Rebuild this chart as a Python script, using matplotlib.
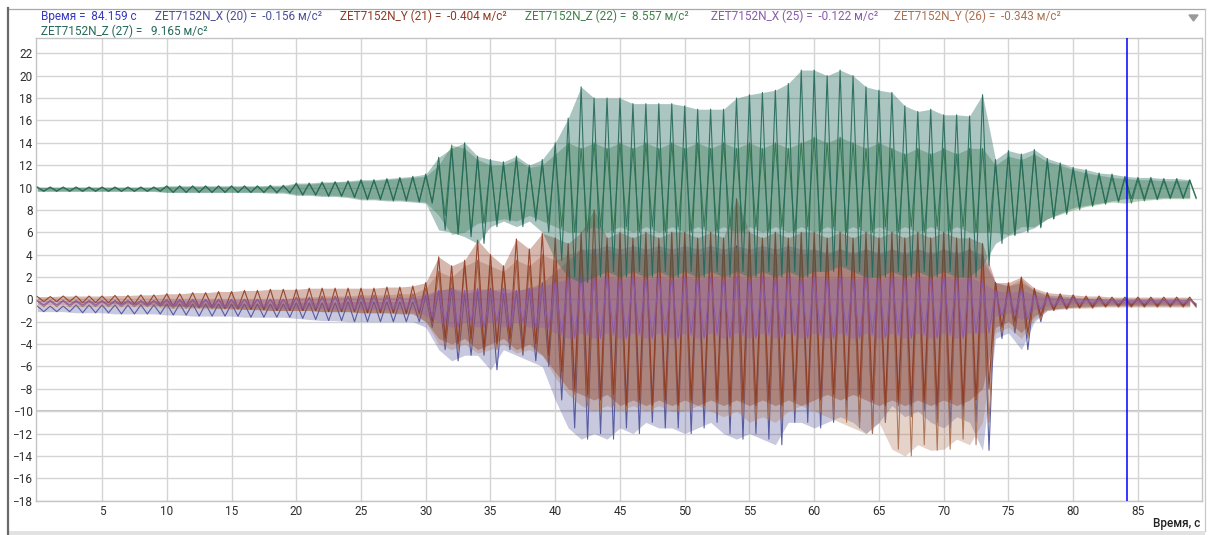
import numpy as np
import matplotlib
matplotlib.use("Agg")
import matplotlib.pyplot as plt
from matplotlib.lines import Line2D
from matplotlib.patches import Rectangle, Polygon

W, H, DPI = 1213, 535, 100

# ---------------- data (per-second upper / lower excursions) -------------
time_s = list(range(90))

z27_hi = [10.05,10.05,10.05,10.05,10.05,10.05,10.05,10.05,10.05,10.05,
          10.15,10.15,10.15,10.15,10.15,10.15,10.15,10.15,10.2,10.2,
          10.4,10.4,10.5,10.5,10.6,10.7,10.7,10.8,10.9,11.0,
          11.2,12.7,13.5,14.0,12.8,12.5,12.3,12.8,12.0,12.5,
          14.0,16.2,19.0,18.0,18.0,18.0,17.5,17.5,17.5,17.5,
          17.3,17.0,17.0,17.0,18.0,18.3,18.5,18.7,19.3,20.5,
          20.5,20.0,20.5,20.0,19.0,18.7,18.5,17.3,16.8,17.0,
          16.5,16.5,16.4,18.3,12.5,13.3,13.0,13.4,12.6,12.2,
          11.8,11.6,11.3,11.2,11.0,10.9,10.9,10.8,10.8,10.7]
z27_lo = [9.65,9.65,9.65,9.65,9.65,9.65,9.65,9.65,9.65,9.65,
          9.55,9.55,9.55,9.55,9.55,9.55,9.55,9.55,9.5,9.5,
          9.3,9.3,9.2,9.2,9.1,8.9,8.9,8.8,8.8,8.7,
          8.6,6.2,6.0,5.6,5.0,6.5,7.0,6.5,7.0,6.0,
          3.5,2.0,1.5,2.0,2.5,2.0,2.5,2.0,2.5,2.0,
          2.5,2.0,2.5,2.0,2.5,2.0,2.5,2.0,2.5,2.0,
          2.5,2.5,3.0,2.5,2.0,2.0,2.5,2.0,2.5,2.0,
          2.5,2.0,2.0,3.0,5.0,5.7,6.0,6.4,7.2,7.7,
          8.2,8.4,8.6,8.8,9.0,9.0,9.0,9.1,9.1,9.1]

z22_hi = [10.0,10.0,10.0,10.0,10.0,10.0,10.0,10.0,10.0,10.0,
          10.1,10.1,10.1,10.1,10.1,10.1,10.1,10.1,10.1,10.1,
          10.3,10.3,10.4,10.5,10.5,10.6,10.6,10.7,10.8,10.9,
          11.0,12.0,13.8,13.5,12.5,12.0,12.0,12.5,11.8,12.0,
          13.0,14.0,13.5,14.0,13.5,14.0,13.5,14.0,13.5,14.0,
          13.5,14.0,13.5,14.0,13.5,14.0,13.5,14.0,13.5,14.0,
          14.5,14.0,14.5,14.0,13.5,14.0,13.5,13.0,13.5,13.0,
          13.5,13.0,13.5,13.5,12.0,12.8,12.5,13.0,12.3,12.0,
          11.6,11.3,11.1,10.9,10.8,10.7,10.7,10.6,10.6,10.6]
z22_lo = [9.7,9.7,9.7,9.7,9.7,9.7,9.7,9.7,9.7,9.7,
          9.6,9.6,9.6,9.6,9.6,9.6,9.6,9.6,9.6,9.6,
          9.4,9.4,9.3,9.3,9.2,9.0,9.0,8.9,8.9,8.8,
          8.7,7.5,5.8,6.0,6.8,7.0,7.2,7.0,7.5,7.0,
          6.5,6.0,6.0,6.5,6.0,6.5,6.0,6.5,6.0,6.5,
          6.0,6.5,6.0,6.5,6.0,6.5,6.0,6.5,6.0,6.5,
          6.0,6.5,6.0,6.5,6.0,6.5,6.0,6.5,6.0,6.5,
          6.0,6.5,6.0,6.0,6.0,5.8,6.5,6.5,7.2,7.6,
          8.0,8.3,8.5,8.7,8.6,8.8,8.9,9.0,9.0,9.0]

x20_hi = [-0.6,-0.6,-0.6,-0.5,-0.5,-0.5,-0.5,-0.5,-0.5,-0.5,
          -0.4,-0.4,-0.4,-0.4,-0.4,-0.4,-0.4,-0.4,-0.4,-0.4,
          -0.3,-0.3,-0.3,-0.3,-0.2,-0.2,-0.2,-0.2,-0.2,-0.2,
          0.3,0.8,1.0,0.5,0.8,1.0,0.5,0.8,1.0,1.5,
          2.5,3.5,4.5,4.5,4.8,4.5,4.8,4.5,4.8,4.5,
          4.8,4.5,4.8,4.5,4.8,4.5,4.8,4.5,4.8,4.5,
          4.5,4.2,4.5,4.2,4.5,4.2,4.5,4.2,4.5,4.2,
          4.5,4.2,4.5,4.0,1.5,1.2,1.5,0.8,0.4,0.3,
          0.2,0.1,0.1,0.0,0.0,0.0,0.0,0.0,0.0,0.0]
x20_lo = [-1.1,-1.1,-1.1,-1.2,-1.2,-1.2,-1.3,-1.3,-1.3,-1.3,
          -1.4,-1.4,-1.5,-1.5,-1.5,-1.5,-1.6,-1.6,-1.6,-1.6,
          -1.7,-1.8,-1.9,-1.9,-2.0,-2.0,-2.0,-2.0,-2.0,-2.0,
          -2.5,-4.5,-5.5,-5.0,-5.0,-6.3,-4.5,-5.0,-5.5,-6.0,
          -9.0,-11.5,-12.5,-12.0,-12.5,-11.5,-12.0,-11.0,-11.5,-11.5,
          -12.0,-11.5,-11.0,-12.0,-12.5,-12.0,-12.5,-13.0,-11.0,-11.0,
          -11.5,-11.0,-10.5,-11.0,-12.0,-11.0,-9.5,-10.5,-10.0,-11.0,
          -11.5,-10.5,-11.0,-13.5,-3.5,-3.0,-4.5,-2.0,-1.0,-0.8,
          -0.7,-0.6,-0.6,-0.5,-0.5,-0.5,-0.5,-0.5,-0.5,-0.5]

y21_hi = [0.25,0.25,0.3,0.3,0.3,0.3,0.35,0.35,0.4,0.4,
          0.5,0.5,0.6,0.6,0.7,0.7,0.8,0.8,0.9,0.9,
          0.9,1.0,1.0,1.0,1.0,1.0,1.0,1.1,1.1,1.2,
          1.5,3.8,3.0,3.5,5.3,4.0,3.0,5.4,4.5,5.9,
          5.5,5.0,6.0,8.0,5.5,6.0,5.5,6.0,5.5,6.0,
          6.0,5.5,6.0,5.5,9.0,6.0,5.5,6.0,5.5,6.0,
          6.0,5.5,6.0,5.5,6.0,5.5,6.0,5.5,6.0,5.5,
          6.0,5.5,5.5,5.0,1.5,1.5,2.0,1.0,0.6,0.5,
          0.4,0.3,0.3,0.2,0.2,0.2,0.2,0.2,0.2,0.2]
y21_lo = [-0.2,-0.2,-0.2,-0.3,-0.3,-0.3,-0.4,-0.4,-0.5,-0.5,
          -0.6,-0.6,-0.7,-0.7,-0.8,-0.8,-0.9,-0.9,-1.0,-1.0,
          -1.0,-1.0,-1.1,-1.1,-1.1,-1.2,-1.2,-1.2,-1.3,-1.3,
          -2.0,-3.5,-4.0,-3.5,-4.5,-4.0,-3.5,-4.5,-4.0,-5.0,
          -6.5,-8.0,-8.5,-9.0,-8.5,-9.5,-9.0,-9.5,-9.0,-9.5,
          -9.0,-9.5,-9.0,-9.5,-9.0,-9.5,-9.0,-9.5,-9.0,-9.5,
          -9.0,-8.5,-9.0,-8.5,-9.0,-9.5,-9.0,-9.5,-9.0,-9.5,
          -9.0,-9.5,-9.0,-8.0,-2.5,-2.0,-3.0,-1.5,-0.9,-0.8,
          -0.7,-0.7,-0.6,-0.6,-0.6,-0.6,-0.6,-0.6,-0.6,-0.6]

x25_hi = [-0.1,-0.1,-0.1,-0.1,-0.1,-0.1,-0.1,-0.1,-0.1,-0.1,
          0.0,0.0,0.0,0.0,0.0,0.0,0.0,0.0,0.0,0.0,
          0.1,0.1,0.1,0.2,0.2,0.2,0.2,0.2,0.2,0.2,
          0.5,0.8,1.0,0.8,1.0,0.8,1.0,0.8,1.0,1.2,
          1.5,1.8,2.0,1.8,2.0,1.8,2.0,1.8,2.0,1.8,
          2.0,1.8,2.0,1.8,2.0,1.8,2.0,1.8,2.0,1.8,
          2.0,1.8,2.0,1.8,2.0,1.8,2.0,1.8,2.0,1.8,
          2.0,1.8,2.0,1.5,0.8,0.6,0.8,0.4,0.2,0.1,
          0.1,0.0,0.0,0.0,0.0,0.0,0.0,0.0,0.0,0.0]
x25_lo = [-0.5,-0.5,-0.5,-0.5,-0.5,-0.5,-0.5,-0.5,-0.5,-0.5,
          -0.6,-0.6,-0.6,-0.7,-0.7,-0.7,-0.7,-0.7,-0.8,-0.8,
          -0.8,-0.8,-0.8,-0.9,-0.9,-0.9,-0.9,-0.9,-0.9,-0.9,
          -1.5,-2.0,-2.5,-2.0,-2.5,-2.0,-2.5,-2.0,-2.5,-2.5,
          -3.0,-3.5,-3.0,-3.5,-3.0,-3.5,-3.0,-3.5,-3.0,-3.5,
          -3.0,-3.5,-3.0,-3.5,-3.0,-3.5,-3.0,-3.5,-3.0,-3.5,
          -3.0,-3.5,-3.0,-3.5,-3.0,-3.5,-3.0,-3.5,-3.0,-3.5,
          -3.0,-3.5,-3.0,-3.0,-1.5,-1.2,-1.8,-0.9,-0.6,-0.5,
          -0.4,-0.4,-0.4,-0.4,-0.4,-0.4,-0.4,-0.4,-0.4,-0.4]

y26_hi = [-0.15,-0.15,-0.15,-0.15,-0.15,-0.15,-0.15,-0.15,-0.15,-0.15,
          -0.1,-0.1,-0.1,-0.05,-0.05,-0.05,0.0,0.0,0.0,0.0,
          0.2,0.2,0.3,0.3,0.3,0.4,0.4,0.4,0.5,0.5,
          1.0,2.5,2.0,3.0,3.5,3.0,2.5,3.5,3.0,4.0,
          3.5,4.0,4.5,4.0,4.5,4.0,4.5,4.0,4.5,4.0,
          4.5,4.0,4.5,4.0,4.5,4.0,4.5,4.0,4.5,4.0,
          4.5,4.0,4.5,4.0,4.5,4.0,4.5,4.0,4.5,4.0,
          4.5,4.0,4.5,3.5,1.5,1.2,1.8,0.8,0.3,0.1,
          0.1,0.1,0.0,0.0,0.0,0.0,0.0,0.0,0.0,0.0]
y26_lo = [-0.65,-0.65,-0.65,-0.65,-0.65,-0.65,-0.65,-0.65,-0.65,-0.65,
          -0.8,-0.8,-0.8,-0.85,-0.85,-0.9,-0.9,-0.95,-1.0,-1.0,
          -1.0,-1.0,-1.1,-1.1,-1.1,-1.2,-1.2,-1.2,-1.2,-1.2,
          -2.0,-4.0,-4.5,-4.0,-4.8,-4.5,-4.0,-4.8,-4.5,-5.0,
          -7.0,-8.5,-9.5,-10.0,-9.5,-10.0,-9.5,-10.0,-9.5,-10.0,
          -10.0,-9.5,-10.0,-10.5,-10.0,-11.0,-10.5,-11.0,-10.0,-9.5,
          -10.0,-10.5,-11.0,-11.5,-12.0,-11.0,-13.4,-14.0,-13.0,-13.5,
          -13.4,-12.5,-13.0,-11.0,-3.0,-2.5,-3.5,-1.8,-1.0,-0.9,
          -0.8,-0.8,-0.7,-0.7,-0.7,-0.7,-0.7,-0.7,-0.7,-0.7]

cursor_time = 84.159
channel_names = ["ZET7152N_X (20)", "ZET7152N_Y (21)", "ZET7152N_Z (22)",
                 "ZET7152N_X (25)", "ZET7152N_Y (26)", "ZET7152N_Z (27)"]
cursor_values = [-0.156, -0.404, 8.557, -0.122, -0.343, 9.165]
channel_colors = ["#4b4f98", "#8e3a22", "#3e8049", "#8a5aac", "#aa7050", "#24695a"]
x_ticks = [5, 10, 15, 20, 25, 30, 35, 40, 45, 50, 55, 60, 65, 70, 75, 80, 85]
y_ticks = list(range(-18, 23, 2))
x_label = "Время, с"

# ---------------- figure ----------------
fig = plt.figure(figsize=(W / DPI, H / DPI), dpi=DPI)
fig.patch.set_facecolor("white")

def fx(x):
    return x / W

def fy(y):
    return 1 - y / H

L, R, T, B = 36, 1202, 38.3, 501
ax = fig.add_axes([fx(L), fy(B), fx(R) - fx(L), fy(T) - fy(B)])
ax.set_xlim(-0.1, 89.95)
ax.set_ylim(-18.03, 23.34)

# grid
ax.set_xticks(x_ticks)
ax.set_yticks(y_ticks)
ax.grid(True, color="#d4d4d4", lw=1.0, zorder=0)
ax.axhline(-10, color="#c4c4c4", lw=1.5, zorder=0.5)
ax.set_axisbelow(True)
for s in ax.spines.values():
    s.set_color("#c4c4c4")
    s.set_linewidth(1.0)

ax.tick_params(axis="both", length=0, labelsize=8.5, labelcolor="#2e2e2e",
               labelfontfamily="Roboto")
ax.tick_params(axis="y", pad=2.5)
ax.tick_params(axis="x", pad=3)

t = np.asarray(time_s, dtype=float)
series = [
    (x20_hi, x20_lo, channel_colors[0], 2, 0.30),
    (y26_hi, y26_lo, channel_colors[4], 3, 0.30),
    (y21_hi, y21_lo, channel_colors[1], 4, 0.36),
    (x25_hi, x25_lo, channel_colors[3], 5, 0.32),
    (z22_hi, z22_lo, channel_colors[2], 6, 0.36),
    (z27_hi, z27_lo, channel_colors[5], 7, 0.38),
]
for hi, lo, col, z, a in series:
    hi = np.asarray(hi)
    lo = np.asarray(lo)
    tx = np.column_stack((t, t + 0.5)).ravel()
    vy = np.column_stack((hi, lo)).ravel()
    ax.fill_between(t, lo, hi, color=col, alpha=a, lw=0, zorder=z)
    ax.plot(tx, vy, color=col, lw=0.8, alpha=0.9, zorder=z + 0.5)

ax.axvline(cursor_time, color="#0000ff", lw=1.1, zorder=10)

# ---------------- header ----------------
hdr_font = dict(fontsize=8.5, fontfamily="Roboto", va="center", ha="left")
fig.text(fx(41), fy(16.5), f"Время =  {cursor_time:.3f} с", color="#3838c0", **hdr_font)
xs = [155, 340, 525, 711, 894]
for i in range(5):
    fig.text(fx(xs[i]), fy(16.5),
             f"{channel_names[i]} =  {cursor_values[i]:.3f} м/с²",
             color=channel_colors[i], **hdr_font)
fig.text(fx(41), fy(31.5), f"{channel_names[5]} =   {cursor_values[5]:.3f} м/с²",
         color=channel_colors[5], **hdr_font)

# dropdown triangle
fig.add_artist(Polygon(
    [(fx(1189), fy(15)), (fx(1198), fy(15)), (fx(1193.5), fy(21))],
    closed=True, color="#9a9a9a", transform=fig.transFigure))

# axis title
fig.text(fx(1200), fy(523.5), x_label, ha="right", va="center", fontsize=8.5,
         fontfamily="Roboto", fontweight="medium", color="#222222")

# outer frame
fig.add_artist(Line2D([fx(8.5), fx(1205)], [fy(8.5), fy(8.5)], color="#a8a8a8",
                      lw=0.9, transform=fig.transFigure))
fig.add_artist(Line2D([fx(1205), fx(1205)], [fy(8.5), fy(531)], color="#c8c8c8",
                      lw=0.9, transform=fig.transFigure))
fig.add_artist(Line2D([fx(8), fx(8)], [fy(8), fy(535)], color="#6a6a6a",
                      lw=1.6, transform=fig.transFigure))
fig.add_artist(Rectangle((fx(9), fy(535)), fx(1205) - fx(9), fy(531) - fy(535),
                         color="#e2e2e2", transform=fig.transFigure, lw=0))

fig.savefig("out.png", dpi=DPI, facecolor="white")
